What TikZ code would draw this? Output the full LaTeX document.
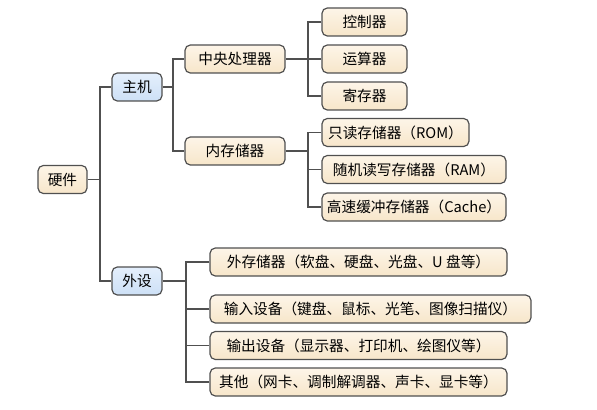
\documentclass[tikz,border=0pt]{standalone}
\usepackage{fontspec}
\setmainfont{Noto Sans CJK SC}
\definecolor{linegray}{RGB}{80,80,80}
\definecolor{beigetop}{RGB}{253,245,232}
\definecolor{beigebot}{RGB}{247,230,202}
\definecolor{bluetop}{RGB}{228,239,252}
\definecolor{bluebot}{RGB}{205,224,246}
\begin{document}
\begin{tikzpicture}[x=0.75pt,y=-0.75pt,
  box/.style={draw=linegray,line width=0.9pt,rounded corners=4pt,
    top color=beigetop,bottom color=beigebot,inner sep=0pt,
    minimum height=21pt,font=\fontsize{11}{12}\selectfont,text=black},
  bluebox/.style={box,top color=bluetop,bottom color=bluebot},
  link/.style={draw=linegray,line width=0.9pt}]
\useasboundingbox (0,0) rectangle (597,410);
\coordinate (t1) at (100,0);
\coordinate (t2) at (173,0);
\coordinate (t3) at (308,0);
\coordinate (t4) at (186,0);
\node[box,minimum width=36.75pt] (yj) at (62.5,179.5) {硬件};
\node[bluebox,minimum width=37.5pt] (zj) at (137,87) {主机};
\node[bluebox,minimum width=37.5pt] (ws) at (137,281) {外设};
\node[box,minimum width=75pt] (cpu) at (235,59) {中央处理器};
\node[box,minimum width=75pt] (mem) at (235,151) {内存储器};
\node[box,minimum width=63.75pt] (kz) at (364.5,22) {控制器};
\node[box,minimum width=63.75pt] (ys) at (364.5,59) {运算器};
\node[box,minimum width=63.75pt] (jc) at (364.5,96) {寄存器};
\node[box,minimum width=110.25pt] (rom) at (395.5,132.5) {只读存储器（ROM）};
\node[box,minimum width=138pt] (ram) at (414,169.5) {随机读写存储器（RAM）};
\node[box,minimum width=138pt] (cache) at (414,207) {高速缓冲存储器（Cache）};
\node[box,minimum width=222.75pt] (wc) at (358.5,262) {外存储器（软盘、硬盘、光盘、U 盘等）};
\node[box,minimum width=240.75pt] (sr) at (370.5,309) {输入设备（键盘、鼠标、光笔、图像扫描仪）};
\node[box,minimum width=222.75pt] (sc) at (358.5,345.5) {输出设备（显示器、打印机、绘图仪等）};
\node[box,minimum width=222.75pt] (qt) at (358.5,382) {其他（网卡、调制解调器、声卡、显卡等）};
% level 1
\draw[link] (yj.east) -- (yj.east -| t1) |- (zj.west);
\draw[link] (yj.east -| t1) |- (ws.west);
% level 2 host
\draw[link] (zj.east) -- (zj.east -| t2) |- (cpu.west);
\draw[link] (zj.east -| t2) |- (mem.west);
% cpu children
\draw[link] (cpu.east) -- (cpu.east -| t3);
\draw[link] (ys.west) -- (ys.west -| t3);
\draw[link] (kz.west) -| (t3 |- jc.west) -- (jc.west);
% memory children
\draw[link] (mem.east) -- (mem.east -| t3);
\draw[link] (rom.west) -| (t3 |- cache.west) -- (cache.west);
\draw[link] (ram.west) -- (ram.west -| t3);
% peripherals
\draw[link] (ws.east) -- (ws.east -| t4);
\draw[link] (wc.west) -| (t4 |- qt.west) -- (qt.west);
\draw[link] (sr.west) -- (sr.west -| t4);
\draw[link] (sc.west) -- (sc.west -| t4);
\end{tikzpicture}
\end{document}
